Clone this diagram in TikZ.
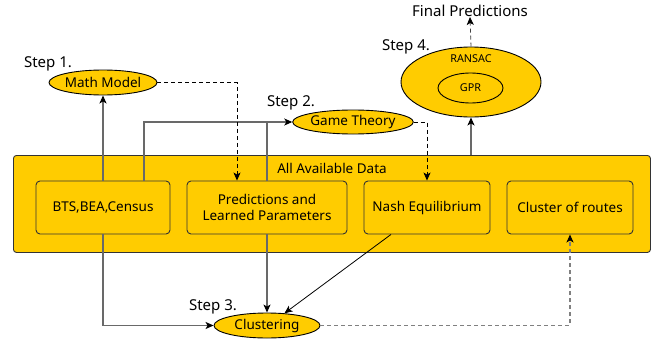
\documentclass[tikz,border=0pt]{standalone}
\usepackage{fontspec}
\setmainfont{Noto Sans}
\usetikzlibrary{arrows.meta,shapes.geometric}
\definecolor{gold}{RGB}{255,204,0}
\definecolor{ln}{RGB}{105,105,105}
\begin{document}
\begin{tikzpicture}[x=1pt,y=-1pt,
  oval/.style={ellipse,draw=black,fill=gold,line width=0.9pt,inner sep=0pt,font=\fontsize{13.5}{15}\selectfont},
  box/.style={rectangle,rounded corners=4pt,draw=black!80,fill=gold,line width=0.9pt,inner sep=0pt,align=center,font=\fontsize{13.5}{16}\selectfont},
  steplabel/.style={font=\fontsize{15}{17}\selectfont,inner sep=0pt},
  conn/.style={draw=ln,line width=1.1pt,-{Stealth[length=8pt,width=7pt,inset=2pt,color=black]}},
  dconn/.style={conn,line width=0.8pt,dash pattern=on 4pt off 3pt}]
\useasboundingbox (0,0) rectangle (657,343);
% big box
\node[box,rounded corners=3pt,minimum width=637pt,minimum height=97pt,anchor=north west] (all) at (13,155) {};
\node[font=\fontsize{13.5}{15}\selectfont,inner sep=0pt] (alllbl) at (332,168) {All Available Data};
% inner boxes
\node[box,minimum width=134pt,minimum height=53pt] (bts) at (103,207.5) {BTS,BEA,Census};
\node[box,minimum width=160pt,minimum height=53pt] (pred) at (267,207.5) {Predictions and\\Learned Parameters};
\node[box,minimum width=126pt,minimum height=53pt] (nash) at (427,207.5) {Nash Equilibrium};
\node[box,minimum width=126pt,minimum height=53pt] (cr) at (570,207.5) {Cluster of routes};
% ellipses
\node[oval,minimum width=106pt,minimum height=25pt] (mm) at (103,82.5) {Math Model};
\node[oval,minimum width=106pt,minimum height=24pt] (gt) at (353,122) {Game Theory};
\node[oval,minimum width=106pt,minimum height=25pt] (cl) at (267,325.5) {Clustering};
\node[oval,minimum width=140pt,minimum height=70pt] (s4) at (471,82) {};
\node[font=\fontsize{10.8}{12}\selectfont,inner sep=0pt] (ransac) at (471,59) {RANSAC};
\node[oval,minimum width=65pt,minimum height=30pt,font=\fontsize{10.8}{12}\selectfont] (gpr) at (470.5,88) {GPR};
% labels
\node[steplabel] (st1) at (48,64) {Step 1.};
\node[steplabel] (st2) at (291,103) {Step 2.};
\node[steplabel] (st3) at (213,307) {Step 3.};
\node[steplabel] (st4) at (406,47) {Step 4.};
\node[steplabel] (final) at (470,11) {Final Predictions};
% connectors
\draw[conn] (bts.north) -- (mm.south);
\draw[conn] ([xshift=41pt]bts.north) |- (gt.west);
\draw[ln,line width=1.1pt] (pred.north) -- (pred.north |- gt.west);
\draw[dconn,draw=black] (mm.east) -| ([xshift=-30pt]pred.north);
\draw[dconn,draw=black] (gt.east) -| (nash.north);
\draw[conn] (s4.south |- all.north) -- (s4.south);
\draw[dconn,draw=black!75] (s4.north) -- (final.south);
\draw[conn] (bts.south) |- (cl.west);
\draw[conn] (pred.south) -- (cl.north);
\draw[conn,draw=black,line width=0.8pt] ([xshift=-36pt]nash.south) -- (cl.35);
\draw[dconn,draw=gray,line width=1.1pt] (cl.east) -| (cr.south);
\end{tikzpicture}
\end{document}
